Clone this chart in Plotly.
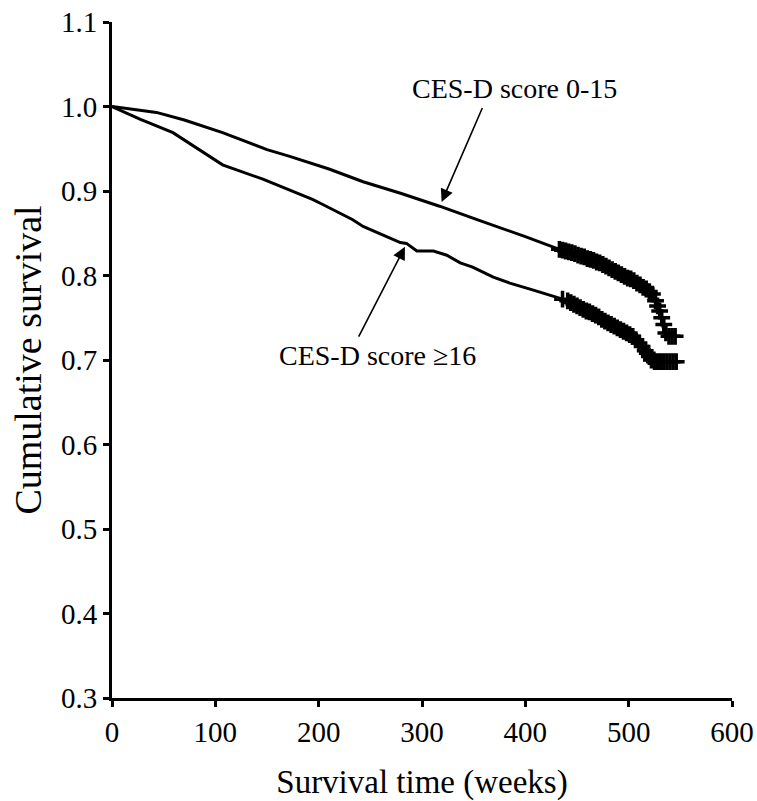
import plotly.graph_objects as go

# Kaplan-Meier curves
weeks_low_dep = [0, 20, 43, 70, 107, 150, 172, 210, 221, 243, 280, 317, 356, 368, 400, 433, 472, 504, 523, 530, 533, 536, 546]
surv_low_dep = [1.0, 0.997, 0.993, 0.984, 0.969, 0.949, 0.941, 0.926, 0.921, 0.911, 0.897, 0.882, 0.865, 0.860, 0.846, 0.831, 0.815, 0.795, 0.780, 0.760, 0.740, 0.728, 0.728]

weeks_high_dep = [0, 27, 59, 69, 107, 146, 194, 204, 233, 243, 279, 285, 291, 295, 311, 324, 337, 349, 369, 385, 407, 436, 472, 504, 517, 523, 546]
surv_high_dep = [1.0, 0.985, 0.969, 0.961, 0.931, 0.914, 0.890, 0.884, 0.866, 0.858, 0.839, 0.838, 0.832, 0.829, 0.829, 0.824, 0.815, 0.810, 0.798, 0.791, 0.783, 0.772, 0.751, 0.728, 0.709, 0.698, 0.698]

# censored observations (tick marks)
cens_t_low = [433, 436, 439, 442, 445, 448, 451, 454, 457, 460, 463, 466, 469, 472, 475, 478, 481, 484, 487, 490,
              493, 496, 499, 502, 505, 508, 511, 514, 517, 520, 523, 526, 528, 530, 532, 534, 536, 539, 542, 545]
cens_v_low = [0.831, 0.830, 0.829, 0.828, 0.827, 0.826, 0.824, 0.823, 0.822, 0.820, 0.819, 0.818, 0.816, 0.815,
              0.813, 0.811, 0.809, 0.807, 0.805, 0.803, 0.801, 0.799, 0.797, 0.796, 0.794, 0.791, 0.789, 0.786,
              0.784, 0.781, 0.778, 0.770, 0.764, 0.758, 0.750, 0.742, 0.732, 0.728, 0.728, 0.728]

cens_t_high = [436, 441, 444, 447, 450, 453, 456, 459, 462, 465, 468, 471, 474, 477, 480, 483, 486, 489, 492, 495,
               498, 501, 504, 507, 510, 513, 516, 518, 520, 522, 525, 528, 531, 534, 537, 540, 543, 546]
cens_v_high = [0.772, 0.770, 0.768, 0.766, 0.764, 0.762, 0.760, 0.758, 0.757, 0.755, 0.753, 0.751, 0.748, 0.746,
               0.744, 0.742, 0.740, 0.738, 0.736, 0.734, 0.732, 0.730, 0.728, 0.724, 0.720, 0.716, 0.711, 0.708,
               0.704, 0.700, 0.698, 0.698, 0.698, 0.698, 0.698, 0.698, 0.698, 0.698]

x_ticks = [0, 100, 200, 300, 400, 500, 600]
y_ticks = [0.3, 0.4, 0.5, 0.6, 0.7, 0.8, 0.9, 1.0, 1.1]

label_low = "CES-D score 0-15"
label_high = "CES-D score \u226516"

FONT = "Liberation Serif, Times New Roman, serif"

fig = go.Figure()
fig.add_trace(go.Scatter(x=weeks_low_dep, y=surv_low_dep, mode="lines",
                         line=dict(color="black", width=3), showlegend=False))
fig.add_trace(go.Scatter(x=weeks_high_dep, y=surv_high_dep, mode="lines",
                         line=dict(color="black", width=3), showlegend=False))
for ct, cv in ((cens_t_low, cens_v_low), (cens_t_high, cens_v_high)):
    fig.add_trace(go.Scatter(x=ct, y=cv, mode="markers",
                             marker=dict(symbol="cross-thin", size=12, line=dict(color="black", width=3.5)),
                             showlegend=False))

# text labels
fig.add_annotation(x=288, y=1.021, text=label_low, showarrow=False, xanchor="left",
                   font=dict(family=FONT, size=28, color="black"))
fig.add_annotation(x=160, y=0.705, text=label_high, showarrow=False, xanchor="left",
                   font=dict(family=FONT, size=28, color="black"))
# arrows
fig.add_annotation(x=319, y=0.887, ax=359, ay=1.0, axref="x", ayref="y",
                   text="", showarrow=True, arrowhead=2, arrowsize=1.6, arrowwidth=1.6,
                   arrowcolor="black")
fig.add_annotation(x=283.5, y=0.834, ax=238, ay=0.726, axref="x", ayref="y",
                   text="", showarrow=True, arrowhead=2, arrowsize=1.6, arrowwidth=1.6,
                   arrowcolor="black")

fig.update_xaxes(range=[0, 600], tickvals=x_ticks, ticks="outside", ticklen=6, tickwidth=3,
                 tickcolor="black", showline=True, linewidth=3, linecolor="black",
                 showgrid=False, zeroline=False, automargin=False,
                 tickfont=dict(family=FONT, size=29, color="black"),
                 title=dict(text="Survival time (weeks)", font=dict(family=FONT, size=33, color="black"),
                            standoff=27))
fig.update_yaxes(range=[0.3, 1.1], tickvals=y_ticks, tickformat=".1f", ticks="outside", ticklen=6,
                 tickwidth=3, tickcolor="black", showline=True, linewidth=3, linecolor="black",
                 showgrid=False, zeroline=False, automargin=False,
                 tickfont=dict(family=FONT, size=29, color="black"),
                 title=dict(text="Cumulative survival", font=dict(family=FONT, size=38, color="black"),
                            standoff=8))

fig.update_layout(width=757, height=801, margin=dict(l=112, r=25, t=22, b=103),
                  plot_bgcolor="white", paper_bgcolor="white", showlegend=False)

fig.write_html("out.html", config={"displayModeBar": False},
               post_script="document.body.style.margin='0';document.body.style.overflow='hidden';")
